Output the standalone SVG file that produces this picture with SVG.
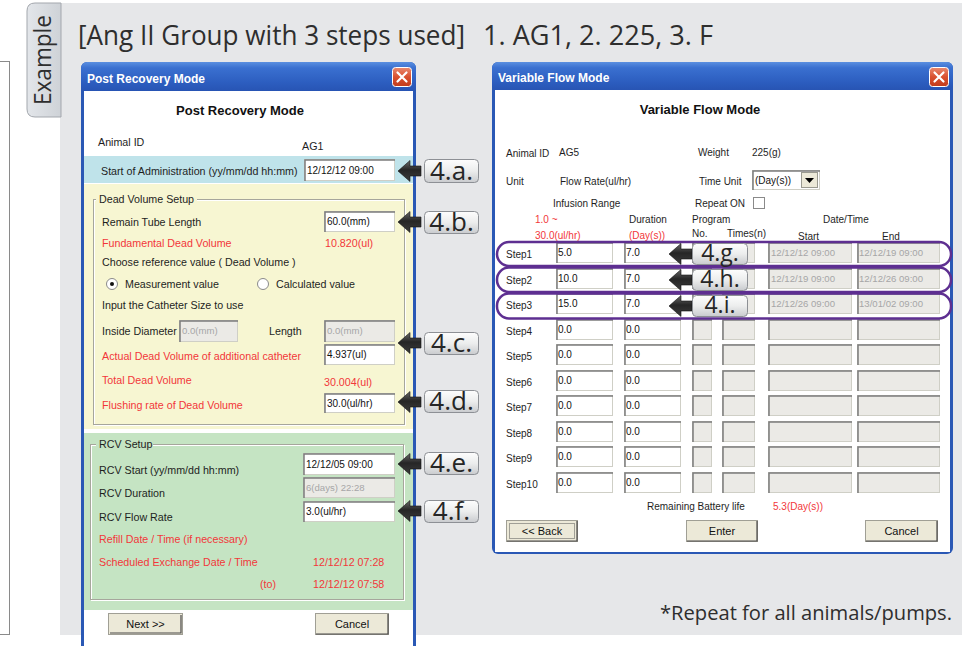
<svg xmlns="http://www.w3.org/2000/svg" xmlns:xlink="http://www.w3.org/1999/xlink" width="973" height="646" viewBox="0 0 973 646">
<style>
.ui{font-family:"Liberation Sans",Arial,sans-serif}
.t{font-size:10.7px;fill:#1e1e1e}
.ts{font-size:10px;fill:#1e1e1e}
.red{fill:#f2373a}
.v{font-size:10px;fill:#111}
.gv{font-size:9.6px;fill:#a6a6a6}
.in{fill:#fff;stroke:#cfcfc6}
.dis{fill:#ebeae6;stroke:#cfcfc6}
.sh{fill:none;stroke:#7c7c7c;stroke-width:1.5}
.big{font-family:"Open Sans","DejaVu Sans",sans-serif;fill:#2e2e2e}
.lb{fill:url(#lblg);stroke:#8d9095;stroke-width:1}
.lt{font-family:"Open Sans","DejaVu Sans",sans-serif;font-size:26px;fill:#262626;text-anchor:middle}
.lr{font-size:23px}
.ar{fill:url(#arr);stroke:#111;stroke-width:.6}
.ov{fill:none;stroke:#5e2f91;stroke-width:2.5}
.btn{fill:#ece9d8;stroke:#a09f95}
.btd{fill:none;stroke:#4a4a4a;stroke-width:1.2}
.bt{font-size:11px;fill:#111;text-anchor:middle}
.grp{fill:none;stroke:#a6a69c}
.grw{fill:none;stroke:#fff}
.ttl{font-family:"Liberation Sans",Arial,sans-serif;font-weight:bold;font-size:12px;fill:#fff}
.hd{font-family:"Liberation Sans",Arial,sans-serif;font-weight:bold;font-size:13px;fill:#111;text-anchor:middle}
</style>
<defs>
<linearGradient id="tb" x1="0" y1="0" x2="0" y2="1">
<stop offset="0" stop-color="#5a8fe0"/><stop offset="0.2" stop-color="#3a70d0"/><stop offset="0.7" stop-color="#2c5dbf"/><stop offset="1" stop-color="#2753b2"/>
</linearGradient>
<linearGradient id="cls" x1="0" y1="0" x2="0" y2="1">
<stop offset="0" stop-color="#e98a70"/><stop offset="0.5" stop-color="#d9502f"/><stop offset="1" stop-color="#c23c1c"/>
</linearGradient>
<linearGradient id="lblg" x1="0" y1="0" x2="0" y2="1">
<stop offset="0" stop-color="#fdfdfd"/><stop offset="0.5" stop-color="#eceded"/><stop offset="1" stop-color="#c9cbce"/>
</linearGradient>
<linearGradient id="arr" x1="0" y1="0" x2="0" y2="1">
<stop offset="0" stop-color="#6a6a6a"/><stop offset="0.45" stop-color="#262626"/><stop offset="1" stop-color="#3c3c3c"/>
</linearGradient>
<linearGradient id="tab" x1="0" y1="0" x2="1" y2="0">
<stop offset="0" stop-color="#e3e6ea"/><stop offset="1" stop-color="#ced2d7"/>
</linearGradient>
<path id="arrow" class="ar" d="M0,0 L12,-10.5 V-5 H23 V5 H12 V10.5 Z"/>
<g id="closebtn">
<rect x="0.5" y="0.5" width="19" height="19" rx="3" fill="url(#cls)" stroke="#fff"/>
<path d="M5.5,5.5 L14.5,14.5 M14.5,5.5 L5.5,14.5" stroke="#fff" stroke-width="2.2" stroke-linecap="round"/>
</g>
<g id="rowboxes">
<rect class="in" x="556.5" y="0.5" width="56" height="20"/><path class="sh" d="M557,21 V1 H613"/>
<rect class="in" x="624.5" y="0.5" width="56" height="20"/><path class="sh" d="M625,21 V1 H681"/>
<rect class="dis" x="692.5" y="0.5" width="19" height="20"/><path class="sh" d="M693,21 V1 H712"/>
<rect class="dis" x="722.5" y="0.5" width="32" height="20"/><path class="sh" d="M723,21 V1 H755"/>
<rect class="dis" x="768.5" y="0.5" width="83" height="20"/><path class="sh" d="M769,21 V1 H852"/>
<rect class="dis" x="857.5" y="0.5" width="82" height="20"/><path class="sh" d="M858,21 V1 H940"/>
</g>
</defs>

<!-- page background -->
<rect x="0" y="0" width="973" height="646" fill="#fff"/>
<rect x="-5" y="61.5" width="14.5" height="573" fill="#fff" stroke="#8a8a8a"/>
<rect x="60" y="3" width="902" height="632" fill="#e6e7e9"/>
<g id="example-tab">
<path d="M61,3 H35 Q27,3 27,11 V109 Q27,117 35,117 H61 Z" fill="url(#tab)" stroke="#a3a7ad"/>
<text class="big" transform="translate(51,60) rotate(-90)" text-anchor="middle" font-size="23" fill="#555" textLength="90" lengthAdjust="spacingAndGlyphs">Example</text>
</g>
<g id="title">
<text class="big" x="78" y="45" font-size="26.5" textLength="387" lengthAdjust="spacingAndGlyphs">[Ang II Group with 3 steps used]</text>
<text class="big" x="483" y="45" font-size="26.5" textLength="230" lengthAdjust="spacingAndGlyphs">1. AG1, 2. 225, 3. F</text>
</g>

<!-- Left dialog -->
<g id="post-recovery-mode" class="ui">
<rect x="81" y="62" width="335" height="600" rx="6" fill="#2a58b5"/>
<rect x="81" y="62" width="335" height="30" rx="6" fill="url(#tb)"/>
<rect x="84" y="91" width="329" height="560" fill="#fff"/>
<text class="ttl" x="87" y="83">Post Recovery Mode</text>
<use xlink:href="#closebtn" x="392" y="67"/>
<text class="hd" x="240" y="115">Post Recovery Mode</text>
<text class="t" x="98" y="146" font-size="10.5">Animal ID</text>
<text class="t" x="302" y="150" font-size="10.5">AG1</text>
<rect x="84" y="156" width="329" height="27" fill="#bfe3ea"/>
<text class="t" x="101" y="175" font-size="10.3">Start of Administration (yy/mm/dd hh:mm)</text>
<rect class="in" x="304.5" y="159.5" width="90" height="21"/><path class="sh" d="M305,181 V160 H395"/>
<text class="v" x="307" y="174">12/12/12 09:00</text>

<rect x="84" y="184" width="329" height="245" fill="#f7f6d2"/>
<rect class="grw" x="94.5" y="200.5" width="311" height="225"/>
<rect class="grp" x="93.5" y="199.5" width="311" height="225"/>
<rect x="96" y="194" width="101" height="10" fill="#f7f6d2"/>
<text class="t" x="99" y="203">Dead Volume Setup</text>
<text class="t" x="102" y="226">Remain Tube Length</text>
<rect class="in" x="324.5" y="211.5" width="70" height="20"/><path class="sh" d="M325,232 V212 H395"/>
<text class="v" x="327" y="225">60.0(mm)</text>
<text class="t red" x="102" y="247">Fundamental Dead Volume</text>
<text class="t red" x="325" y="247">10.820(ul)</text>
<text class="t" x="102" y="266">Choose reference value ( Dead Volume )</text>
<circle cx="112" cy="284" r="5.5" fill="#fff" stroke="#8a8a8a"/><circle cx="112" cy="284" r="2" fill="#111"/>
<text class="t" x="125" y="288">Measurement value</text>
<circle cx="263" cy="284" r="5.5" fill="#fff" stroke="#8a8a8a"/>
<text class="t" x="276" y="288">Calculated value</text>
<text class="t" x="102" y="309">Input the Catheter Size to use</text>
<text class="t" x="102" y="335">Inside Diameter</text>
<rect class="dis" x="179.5" y="320.5" width="58" height="21" fill="#fbfbf6"/><path class="sh" d="M180,342 V321 H238"/>
<text class="gv" x="182" y="334">0.0(mm)</text>
<text class="t" x="269" y="335">Length</text>
<rect class="dis" x="324.5" y="320.5" width="70" height="21"/><path class="sh" d="M325,342 V321 H395"/>
<text class="gv" x="327" y="334">0.0(mm)</text>
<text class="t red" x="102" y="360">Actual Dead Volume of additional catheter</text>
<rect class="in" x="324.5" y="344.5" width="70" height="20"/><path class="sh" d="M325,365 V345 H395"/>
<text class="v" x="327" y="358">4.937(ul)</text>
<text class="t red" x="102" y="384">Total Dead Volume</text>
<text class="t red" x="324" y="386">30.004(ul)</text>
<text class="t red" x="102" y="409">Flushing rate of Dead Volume</text>
<rect class="in" x="324.5" y="393.5" width="70" height="19"/><path class="sh" d="M325,413 V394 H395"/>
<text class="v" x="327" y="407">30.0(ul/hr)</text>

<rect x="84" y="433" width="329" height="177" fill="#c5e4c3"/>
<rect class="grw" x="91.5" y="445.5" width="313" height="155"/>
<rect class="grp" x="90.5" y="444.5" width="313" height="155"/>
<rect x="96" y="439" width="57" height="10" fill="#c5e4c3"/>
<text class="t" x="99" y="448">RCV Setup</text>
<text class="t" x="99" y="474">RCV Start (yy/mm/dd hh:mm)</text>
<rect class="in" x="303.5" y="453.5" width="91" height="21"/><path class="sh" d="M304,475 V454 H395"/>
<text class="v" x="306" y="468">12/12/05 09:00</text>
<text class="t" x="99" y="497">RCV Duration</text>
<rect class="dis" x="303.5" y="477.5" width="91" height="20"/><path class="sh" d="M304,498 V478 H395"/>
<text class="gv" x="306" y="491">6(days) 22:28</text>
<text class="t" x="99" y="521">RCV Flow Rate</text>
<rect class="in" x="303.5" y="501.5" width="91" height="20"/><path class="sh" d="M304,522 V502 H395"/>
<text class="v" x="306" y="515">3.0(ul/hr)</text>
<text class="t red" x="99" y="543">Refill Date / Time (if necessary)</text>
<text class="t red" x="99" y="566">Scheduled Exchange Date / Time</text>
<text class="t red" x="313" y="566">12/12/12 07:28</text>
<text class="t red" x="260" y="588">(to)</text>
<text class="t red" x="313" y="588">12/12/12 07:58</text>

<rect class="btn" x="108.5" y="613.5" width="74" height="21" stroke="#1b1b1b"/>
<path class="btd" d="M110,633 H181 V615"/>
<text class="ui bt" x="145.5" y="628">Next &gt;&gt;</text>
<rect class="btn" x="315.5" y="613.5" width="73" height="21"/>
<path class="btd" d="M316,634 H388 V614"/>
<text class="ui bt" x="352" y="628">Cancel</text>
</g>

<!-- Right dialog -->
<g id="variable-flow-mode" class="ui">
<rect x="492" y="62" width="461" height="492" rx="6" fill="#2a58b5"/>
<rect x="492" y="62" width="461" height="29" rx="6" fill="url(#tb)"/>
<rect x="495" y="90" width="455" height="462" fill="#fff"/>
<text class="ttl" x="498" y="82">Variable Flow Mode</text>
<use xlink:href="#closebtn" x="929" y="67"/>
<text class="hd" x="700" y="114" font-size="12.5">Variable Flow Mode</text>
<text class="ts" x="506" y="157">Animal ID</text>
<text class="ts" x="559" y="156">AG5</text>
<text class="ts" x="698" y="156">Weight</text>
<text class="ts" x="752" y="156">225(g)</text>
<text class="ts" x="506" y="185">Unit</text>
<text class="ts" x="560" y="185">Flow Rate(ul/hr)</text>
<text class="ts" x="699" y="185">Time Unit</text>
<rect class="in" x="752.5" y="170.5" width="67" height="19"/><path class="sh" d="M753,190 V171 H820"/>
<text class="v" x="755" y="184">(Day(s))</text>
<rect x="801.5" y="172.5" width="16" height="15" fill="#ece9d8" stroke="#9a9a90"/>
<path d="M805,178 H814 L809.5,183 Z" fill="#000"/>
<text class="ts" x="553" y="207">Infusion Range</text>
<text class="ts" x="695" y="207">Repeat ON</text>
<rect x="753.5" y="197.5" width="11" height="11" fill="#fff" stroke="#8a8a8a"/>
<text class="ts red" x="535" y="223">1.0 ~</text>
<text class="ts red" x="535" y="239">30.0(ul/hr)</text>
<text class="ts" x="629" y="223">Duration</text>
<text class="ts red" x="629" y="239">(Day(s))</text>
<text class="ts" x="692" y="223">Program</text>
<text class="ts" x="692" y="237">No.</text>
<text class="ts" x="727" y="237">Times(n)</text>
<text class="ts" x="823" y="223">Date/Time</text>
<text class="ts" x="798" y="240">Start</text>
<text class="ts" x="882" y="240">End</text>

<use xlink:href="#rowboxes" y="242"/>
<use xlink:href="#rowboxes" y="268"/>
<use xlink:href="#rowboxes" y="293"/>
<use xlink:href="#rowboxes" y="319"/>
<use xlink:href="#rowboxes" y="344"/>
<use xlink:href="#rowboxes" y="370"/>
<use xlink:href="#rowboxes" y="395"/>
<use xlink:href="#rowboxes" y="421"/>
<use xlink:href="#rowboxes" y="446"/>
<use xlink:href="#rowboxes" y="472"/>

<text class="ts" x="506" y="258">Step1</text>
<text class="ts" x="506" y="284">Step2</text>
<text class="ts" x="506" y="309">Step3</text>
<text class="ts" x="506" y="335">Step4</text>
<text class="ts" x="506" y="360">Step5</text>
<text class="ts" x="506" y="386">Step6</text>
<text class="ts" x="506" y="411">Step7</text>
<text class="ts" x="506" y="437">Step8</text>
<text class="ts" x="506" y="462">Step9</text>
<text class="ts" x="506" y="488">Step10</text>

<text class="v" x="558" y="256">5.0</text><text class="v" x="626" y="256">7.0</text>
<text class="gv" x="771" y="256">12/12/12 09:00</text><text class="gv" x="859" y="256">12/12/19 09:00</text>
<text class="v" x="558" y="282">10.0</text><text class="v" x="626" y="282">7.0</text>
<text class="gv" x="771" y="282">12/12/19 09:00</text><text class="gv" x="859" y="282">12/12/26 09:00</text>
<text class="v" x="558" y="307">15.0</text><text class="v" x="626" y="307">7.0</text>
<text class="gv" x="771" y="307">12/12/26 09:00</text><text class="gv" x="859" y="307">13/01/02 09:00</text>
<text class="v" x="558" y="333">0.0</text><text class="v" x="626" y="333">0.0</text>
<text class="v" x="558" y="358">0.0</text><text class="v" x="626" y="358">0.0</text>
<text class="v" x="558" y="384">0.0</text><text class="v" x="626" y="384">0.0</text>
<text class="v" x="558" y="409">0.0</text><text class="v" x="626" y="409">0.0</text>
<text class="v" x="558" y="435">0.0</text><text class="v" x="626" y="435">0.0</text>
<text class="v" x="558" y="460">0.0</text><text class="v" x="626" y="460">0.0</text>
<text class="v" x="558" y="486">0.0</text><text class="v" x="626" y="486">0.0</text>

<text class="ts" x="647" y="510">Remaining Battery life</text>
<text class="ts red" x="773" y="510">5.3(Day(s))</text>

<rect class="btn" x="506.5" y="520.5" width="71" height="21"/>
<path class="btd" d="M507,541 H577 V521"/>
<rect x="509.5" y="523.5" width="65" height="15" fill="none" stroke="#555" stroke-dasharray="1,1"/>
<text class="ui bt" x="542" y="535">&lt;&lt; Back</text>
<rect class="btn" x="686.5" y="520.5" width="71" height="21"/>
<path class="btd" d="M687,541 H757 V521"/>
<text class="ui bt" x="722" y="535">Enter</text>
<rect class="btn" x="865.5" y="520.5" width="72" height="21"/>
<path class="btd" d="M866,541 H937 V521"/>
<text class="ui bt" x="901.5" y="535">Cancel</text>
</g>

<g id="step-highlights">
<rect class="ov" x="497" y="242" width="454" height="24" rx="12"/>
<rect class="ov" x="497" y="267.5" width="454" height="24.5" rx="12"/>
<rect class="ov" x="497" y="293.5" width="454" height="25" rx="12"/>
</g>

<g id="connectors">
<use xlink:href="#arrow" x="398" y="171"/>
<use xlink:href="#arrow" x="398" y="222"/>
<use xlink:href="#arrow" x="398" y="343"/>
<use xlink:href="#arrow" x="398" y="402"/>
<use xlink:href="#arrow" x="398" y="464"/>
<use xlink:href="#arrow" x="398" y="511"/>
<use xlink:href="#arrow" x="669" y="254"/>
<use xlink:href="#arrow" x="669" y="280"/>
<use xlink:href="#arrow" x="669" y="306"/>
</g>

<g id="label-4a"><rect class="lb" x="424.5" y="159.5" width="54" height="23" rx="4"/><text class="lt" x="451.5" y="180">4.a.</text></g>
<g id="label-4b"><rect class="lb" x="424.5" y="211.5" width="54" height="22" rx="4"/><text class="lt" x="451.5" y="231">4.b.</text></g>
<g id="label-4c"><rect class="lb" x="424.5" y="332.5" width="54" height="22" rx="4"/><text class="lt" x="451.5" y="352">4.c.</text></g>
<g id="label-4d"><rect class="lb" x="424.5" y="390.5" width="54" height="22" rx="4"/><text class="lt" x="451.5" y="410">4.d.</text></g>
<g id="label-4e"><rect class="lb" x="424.5" y="452.5" width="54" height="22" rx="4"/><text class="lt" x="451.5" y="472">4.e.</text></g>
<g id="label-4f"><rect class="lb" x="424.5" y="500.5" width="54" height="22" rx="4"/><text class="lt" x="451.5" y="520">4.f.</text></g>
<g id="label-4g"><rect class="lb" x="692.5" y="243.5" width="55" height="21" rx="4"/><text class="lt lr" x="720" y="261">4.g.</text></g>
<g id="label-4h"><rect class="lb" x="692.5" y="269.5" width="55" height="21" rx="4"/><text class="lt lr" x="720" y="287">4.h.</text></g>
<g id="label-4i"><rect class="lb" x="692.5" y="295.5" width="55" height="21" rx="4"/><text class="lt lr" x="720" y="313">4.i.</text></g>

<text class="big" x="660" y="620" font-size="20" textLength="292" lengthAdjust="spacingAndGlyphs">*Repeat for all animals/pumps.</text>
</svg>
